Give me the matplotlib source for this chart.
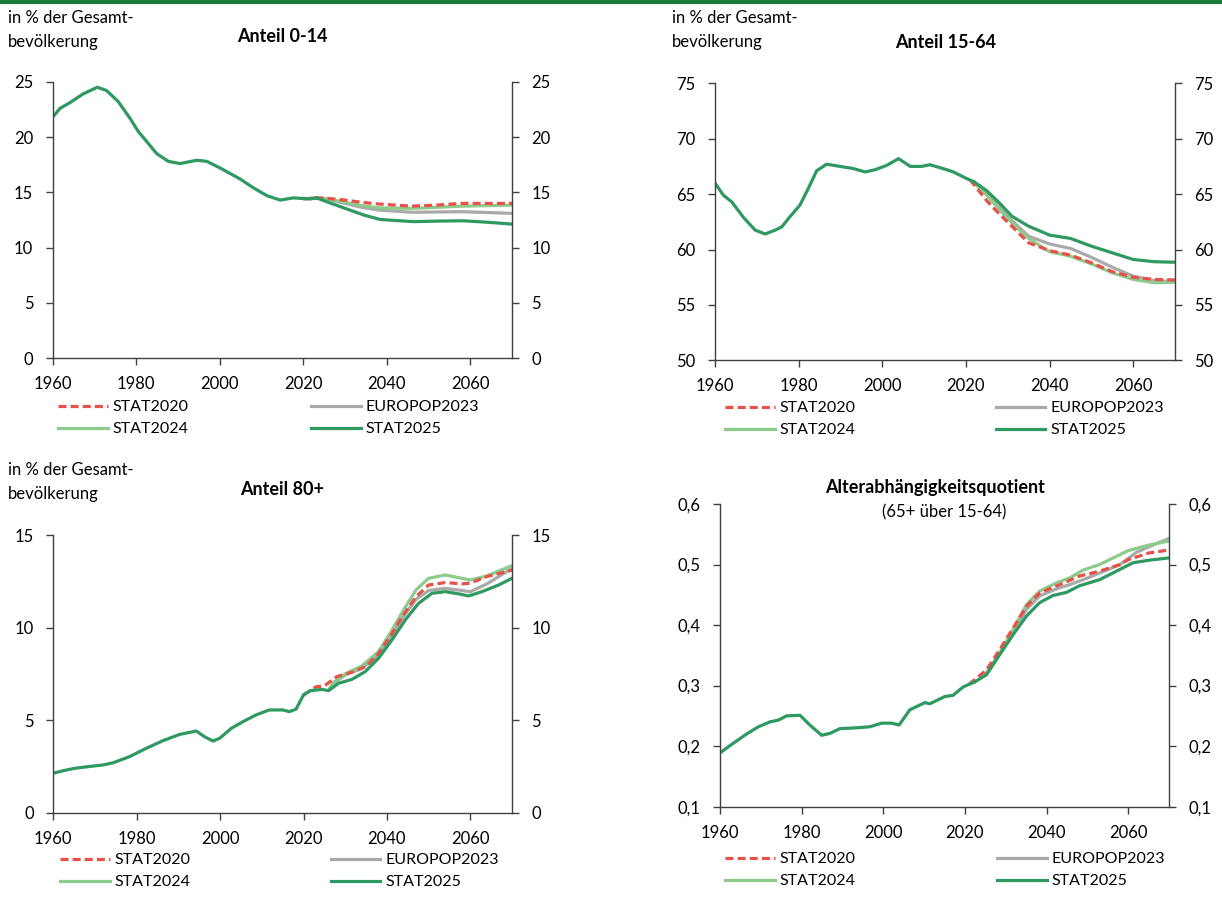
import matplotlib
matplotlib.use("Agg")
import matplotlib.pyplot as plt
from matplotlib.lines import Line2D
from matplotlib.ticker import FuncFormatter

plt.rcParams['font.family'] = ['Lato', 'DejaVu Sans']
plt.rcParams['font.size'] = 11.5

W, H = 1222, 900

# ---- data ----
labels = ["STAT2020", "EUROPOP2023", "STAT2024", "STAT2025"]

# Anteil 0-14
y014_hist = [1960, 1961.8, 1964.1, 1967.3, 1970.7, 1972.9, 1975.7, 1978.5, 1980.5, 1982.5,
             1984.9, 1987.7, 1990.5, 1994.5, 1996.9, 2000.1, 2002.5, 2004.9, 2008.1, 2011.3,
             2014.5, 2017.6, 2021.6, 2023.2]
v014_hist = [21.8, 22.6, 23.1, 23.9, 24.5, 24.2, 23.2, 21.7, 20.5, 19.6,
             18.5, 17.8, 17.6, 17.9, 17.8, 17.2, 16.7, 16.2, 15.4, 14.7,
             14.3, 14.5, 14.4, 14.5]
y014_s20 = [2020, 2023, 2026, 2030, 2034, 2038, 2046, 2052, 2058, 2070]
v014_s20 = [14.4, 14.5, 14.45, 14.3, 14.1, 13.95, 13.75, 13.85, 14.0, 14.0]
y014_eu = [2022, 2025, 2030, 2034, 2038, 2046, 2058, 2070]
v014_eu = [14.5, 14.45, 14.0, 13.65, 13.4, 13.2, 13.25, 13.1]
y014_s24 = [2023, 2026, 2030, 2034, 2038, 2046, 2058, 2070]
v014_s24 = [14.5, 14.4, 14.1, 13.8, 13.6, 13.55, 13.75, 13.85]
y014_s25 = [2023.2, 2026, 2030.4, 2034.5, 2038.4, 2046.4, 2052, 2058.3, 2064, 2070]
v014_s25 = [14.5, 14.1, 13.5, 12.95, 12.55, 12.35, 12.4, 12.43, 12.3, 12.13]

# Anteil 15-64
y1564_hist = [1960, 1962, 1964, 1966.8, 1969.6, 1972, 1974.4, 1976, 1977.9, 1980.3,
              1982.3, 1984.3, 1986.7, 1989.9, 1993.1, 1995.9, 1998.3, 2001.1, 2003.9, 2006.7,
              2009.4, 2011.4, 2015, 2017, 2020.2, 2022]
v1564_hist = [66.0, 64.9, 64.3, 62.9, 61.75, 61.4, 61.75, 62.05, 62.95, 64.0,
              65.5, 67.1, 67.7, 67.5, 67.3, 67.0, 67.2, 67.6, 68.2, 67.5,
              67.5, 67.65, 67.25, 67.0, 66.4, 66.1]
y1564_s20 = [2021, 2025, 2028, 2031, 2035, 2040, 2045, 2050, 2055, 2060, 2065, 2070]
v1564_s20 = [66.3, 64.4, 63.2, 62.1, 60.6, 59.9, 59.5, 58.8, 58.0, 57.5, 57.3, 57.25]
y1564_eu = [2022, 2025, 2028, 2031, 2035, 2040, 2045, 2050, 2055, 2060, 2065, 2070]
v1564_eu = [66.0, 65.0, 63.8, 62.6, 61.2, 60.5, 60.1, 59.3, 58.4, 57.6, 57.2, 57.1]
y1564_s24 = [2022, 2025, 2028, 2031, 2035, 2040, 2045, 2050, 2055, 2060, 2065, 2070]
v1564_s24 = [66.0, 64.9, 63.6, 62.4, 61.0, 59.8, 59.4, 58.7, 57.9, 57.3, 57.0, 57.05]
y1564_s25 = [2022, 2025, 2028, 2031, 2035, 2040, 2045, 2050, 2055, 2060, 2065, 2070]
v1564_s25 = [66.1, 65.3, 64.2, 63.0, 62.1, 61.3, 61.0, 60.3, 59.7, 59.1, 58.9, 58.85]

# Anteil 80+
y80_hist = [1960, 1962.4, 1965.2, 1968.4, 1972, 1974.4, 1978.3, 1982.3, 1986.3, 1990.3,
            1994.3, 1996.3, 1998.3, 1999.9, 2002.7, 2005.5, 2008.6, 2011.8, 2015, 2016.6,
            2018.2, 2020]
v80_hist = [2.13, 2.27, 2.4, 2.49, 2.58, 2.7, 3.03, 3.48, 3.89, 4.23,
            4.41, 4.1, 3.87, 4.02, 4.56, 4.92, 5.28, 5.55, 5.55, 5.46,
            5.59, 6.36]
y80_s20 = [2020, 2021, 2023, 2025, 2028, 2032, 2035, 2038, 2041, 2044, 2047, 2050, 2054, 2058, 2060, 2064, 2070]
v80_s20 = [6.36, 6.5, 6.8, 6.85, 7.35, 7.62, 7.9, 8.6, 9.6, 10.7, 11.67, 12.3, 12.43, 12.36, 12.4, 12.76, 13.1]
y80_eu = [2026, 2027, 2030, 2034, 2038, 2041, 2044, 2047, 2050, 2054, 2058, 2060, 2064, 2070]
v80_eu = [6.6, 6.95, 7.44, 7.8, 8.52, 9.5, 10.6, 11.53, 12.0, 12.12, 12.0, 11.94, 12.36, 13.2]
y80_s24 = [2026, 2027, 2030, 2034, 2038, 2041, 2044, 2047, 2050, 2054, 2058, 2060, 2064, 2070]
v80_s24 = [6.6, 7.0, 7.5, 7.93, 8.7, 9.78, 10.95, 12.04, 12.66, 12.84, 12.66, 12.57, 12.79, 13.35]
y80_s25 = [2020, 2021.6, 2024.4, 2026, 2028.4, 2031.6, 2034.8, 2038, 2041.2, 2044.4, 2047.6,
           2050.8, 2054, 2057.2, 2059.6, 2062.8, 2066.8, 2070]
v80_s25 = [6.36, 6.59, 6.66, 6.59, 6.99, 7.2, 7.62, 8.34, 9.33, 10.41, 11.31,
           11.85, 11.94, 11.82, 11.71, 11.94, 12.3, 12.66]

# Altersabhaengigkeitsquotient
yq_hist = [1960, 1963.3, 1966.5, 1969.4, 1972.2, 1974.3, 1976.3, 1979.6, 1982, 1984.9,
           1986.9, 1989.4, 1992.7, 1996.7, 1999.6, 2002, 2003.9, 2006.5, 2010.2, 2011.4,
           2015.1, 2017.1, 2019.6, 2022.4]
vq_hist = [0.189, 0.205, 0.22, 0.232, 0.24, 0.243, 0.25, 0.251, 0.235, 0.218,
           0.221, 0.229, 0.230, 0.232, 0.238, 0.238, 0.235, 0.26, 0.272, 0.27,
           0.282, 0.284, 0.298, 0.306]
yq_s20 = [2021, 2022.8, 2025.3, 2028.5, 2031.8, 2035.1, 2038.3, 2043.3, 2048.1, 2053, 2058, 2060, 2065, 2070]
vq_s20 = [0.302, 0.312, 0.326, 0.359, 0.395, 0.431, 0.453, 0.467, 0.481, 0.489, 0.5, 0.508, 0.519, 0.524]
yq_eu = [2025, 2028.5, 2031.8, 2035.1, 2038.3, 2042.5, 2045.7, 2049, 2053, 2058, 2062, 2066, 2070]
vq_eu = [0.318, 0.352, 0.388, 0.426, 0.448, 0.46, 0.467, 0.475, 0.486, 0.5, 0.52, 0.532, 0.543]
yq_s24 = [2025, 2028.5, 2031.8, 2035.1, 2038.3, 2042.5, 2045.7, 2049, 2053, 2060, 2065, 2070]
vq_s24 = [0.318, 0.354, 0.392, 0.434, 0.456, 0.47, 0.478, 0.491, 0.5, 0.523, 0.532, 0.539]
yq_s25 = [2022.4, 2025.3, 2028.5, 2031.8, 2035.1, 2038.3, 2041.6, 2044.9, 2048.1, 2053, 2057.1, 2061.2, 2065, 2070]
vq_s25 = [0.306, 0.318, 0.351, 0.384, 0.415, 0.437, 0.449, 0.454, 0.465, 0.475, 0.489, 0.503, 0.507, 0.511]

# ---- styles ----
c_s20, c_eu, c_s24, c_s25 = "#e8504a", "#a8aaa8", "#8ccb8c", "#2e9960"
axis_col = "#404040"
lw = 2.3
dash = (0, (2.5, 1.3))


def px(x, y):
    return x / W, 1 - y / H


def make_ax(left, top, right, bottom):
    ax = fig.add_axes([left / W, 1 - bottom / H, (right - left) / W, (bottom - top) / H])
    ax.spines['top'].set_visible(False)
    for s in ['left', 'right', 'bottom']:
        ax.spines[s].set_color(axis_col)
        ax.spines[s].set_linewidth(1.0)
    ax.yaxis.set_ticks_position('both')
    ax.tick_params(axis='y', which='both', labelright=True, direction='out',
                   length=5, width=1, color=axis_col, pad=9, labelsize=12)
    ax.tick_params(axis='x', direction='out', length=5, width=1, color=axis_col,
                   pad=8, labelsize=12)
    ax.set_xlim(1960, 2070)
    ax.set_xticks([1960, 1980, 2000, 2020, 2040, 2060])
    return ax


def draw(ax, hist, s20, eu, s24, s25):
    ax.plot(eu[0], eu[1], color=c_eu, lw=lw, solid_capstyle='round')
    ax.plot(s24[0], s24[1], color=c_s24, lw=lw, solid_capstyle='round')
    ax.plot(s20[0], s20[1], color=c_s20, lw=lw, ls=dash)
    ax.plot(hist[0], hist[1], color=c_s25, lw=lw, solid_capstyle='round')
    ax.plot(s25[0], s25[1], color=c_s25, lw=lw, solid_capstyle='round')


def legend(x, y, colsp):
    handles = [Line2D([], [], color=c_s20, lw=lw, ls=dash),
               Line2D([], [], color=c_s24, lw=lw),
               Line2D([], [], color=c_eu, lw=lw),
               Line2D([], [], color=c_s25, lw=lw)]
    names = [labels[0], labels[2], labels[1], labels[3]]
    fig.legend(handles, names, loc='upper left', bbox_to_anchor=px(x, y), ncol=2,
               frameon=False, fontsize=11.5, handlelength=3.1, handletextpad=0.3,
               columnspacing=colsp, labelspacing=0.5, borderpad=0, borderaxespad=0)


fig = plt.figure(figsize=(W / 100, H / 100), dpi=100)

# green rule at top
fig.add_artist(Line2D([0, 1], [1 - 2 / H, 1 - 2 / H], transform=fig.transFigure,
                      color="#1a7a3a", lw=3))

ylab = "in % der Gesamt-\nbevölkerung"

# panel 1
ax1 = make_ax(52.7, 81.7, 512, 358.3)
draw(ax1, (y014_hist, v014_hist), (y014_s20, v014_s20), (y014_eu, v014_eu),
     (y014_s24, v014_s24), (y014_s25, v014_s25))
ax1.set_ylim(0, 25)
ax1.set_yticks([0, 5, 10, 15, 20, 25])
fig.text(*px(8, 10), ylab, ha='left', va='top', fontsize=12, linespacing=1.6)
fig.text(*px(282, 37), "Anteil 0-14", ha='center', va='center', fontsize=13, fontweight='bold')
legend(58, 400, 7.7)

# panel 2
ax2 = make_ax(715, 83.3, 1175, 360.3)
draw(ax2, (y1564_hist, v1564_hist), (y1564_s20, v1564_s20), (y1564_eu, v1564_eu),
     (y1564_s24, v1564_s24), (y1564_s25, v1564_s25))
ax2.set_ylim(50, 75)
ax2.set_yticks([50, 55, 60, 65, 70, 75])
fig.text(*px(672, 10), ylab, ha='left', va='top', fontsize=12, linespacing=1.6)
fig.text(*px(946, 42), "Anteil 15-64", ha='center', va='center', fontsize=13, fontweight='bold')
legend(725, 401, 8.8)

# panel 3
ax3 = make_ax(53.3, 535, 512, 812.7)
draw(ax3, (y80_hist, v80_hist), (y80_s20, v80_s20), (y80_eu, v80_eu),
     (y80_s24, v80_s24), (y80_s25, v80_s25))
ax3.set_ylim(0, 15)
ax3.set_yticks([0, 5, 10, 15])
fig.text(*px(8, 462), ylab, ha='left', va='top', fontsize=12, linespacing=1.6)
fig.text(*px(282, 490), "Anteil 80+", ha='center', va='center', fontsize=13, fontweight='bold')
legend(60, 853, 8.8)

# panel 4
ax4 = make_ax(720, 504, 1169, 806.7)
draw(ax4, (yq_hist, vq_hist), (yq_s20, vq_s20), (yq_eu, vq_eu),
     (yq_s24, vq_s24), (yq_s25, vq_s25))
ax4.set_ylim(0.1, 0.6)
ax4.set_yticks([0.1, 0.2, 0.3, 0.4, 0.5, 0.6])
ax4.yaxis.set_major_formatter(FuncFormatter(lambda v, p: f"{v:.1f}".replace(".", ",")))
fig.text(*px(935, 487), "Alterabhängigkeitsquotient", ha='center', va='center',
         fontsize=13, fontweight='bold')
fig.text(*px(944, 512), "(65+ über 15-64)", ha='center', va='center', fontsize=12)
legend(725, 852, 8.9)

fig.savefig("out.png", dpi=100)
